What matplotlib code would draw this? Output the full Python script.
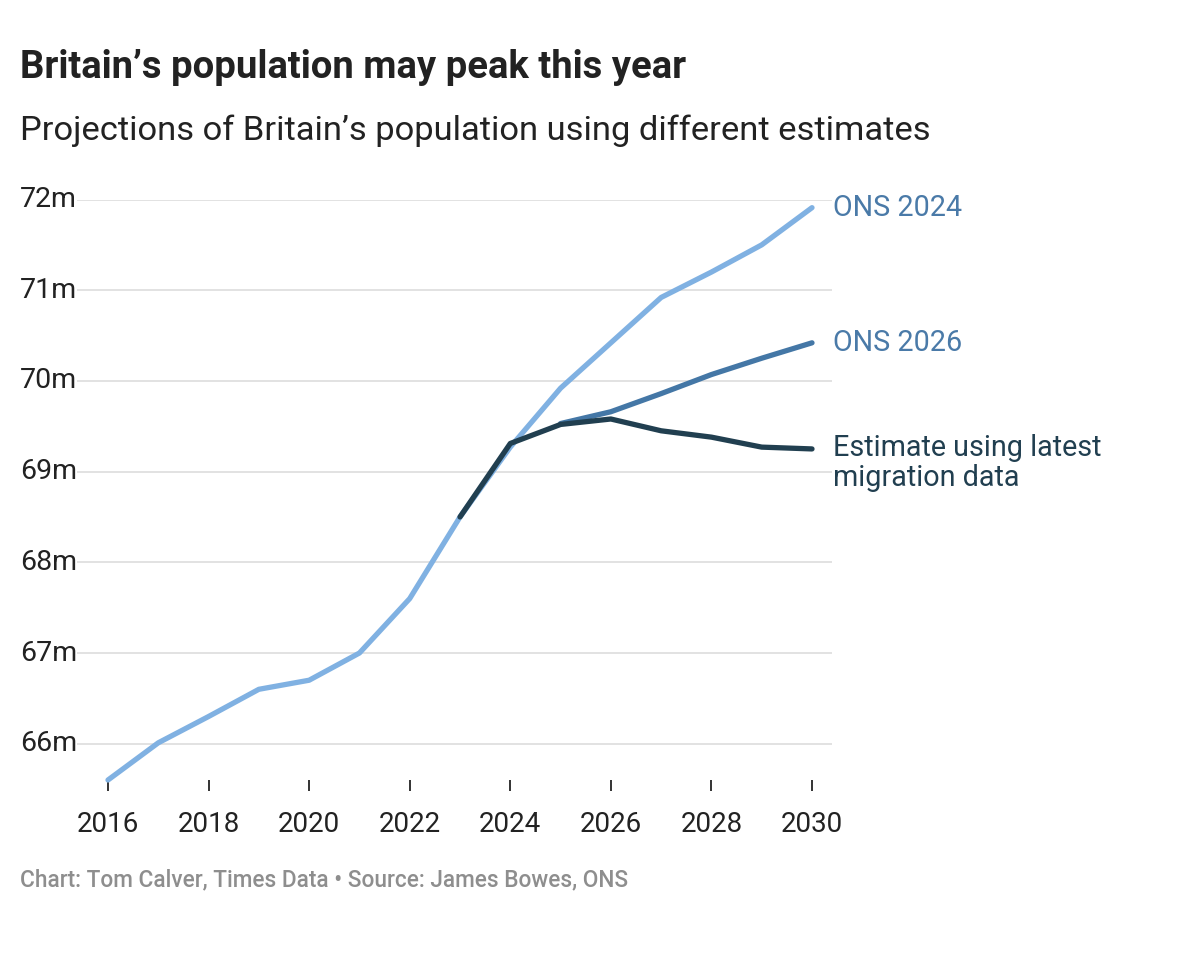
import matplotlib
matplotlib.use('Agg')
import matplotlib.pyplot as plt
import matplotlib.transforms as mtransforms

plt.rcParams['font.family'] = ['Roboto', 'DejaVu Sans']

# data (millions)
years_2024 = [2016, 2017, 2018, 2019, 2020, 2021, 2022, 2023, 2024, 2025, 2026, 2027, 2028, 2029, 2030]
ons_2024 = [65.6, 66.01, 66.3, 66.6, 66.7, 67.0, 67.6, 68.5, 69.27, 69.92, 70.42, 70.92, 71.2, 71.5, 71.91]

years_2026 = [2025, 2026, 2027, 2028, 2029, 2030]
ons_2026 = [69.53, 69.66, 69.86, 70.07, 70.25, 70.42]

years_est = [2023, 2024, 2025, 2026, 2027, 2028, 2029, 2030]
estimate = [68.5, 69.31, 69.52, 69.58, 69.45, 69.38, 69.27, 69.25]

y_ticks = [66, 67, 68, 69, 70, 71, 72]
x_ticks = [2016, 2018, 2020, 2022, 2024, 2026, 2028, 2030]

c_light = '#80b1e2'
c_mid = '#4477a6'
c_dark = '#213f50'
c_label = '#4a7aa8'

fig = plt.figure(figsize=(12, 9.64), dpi=100)
ax = fig.add_axes([77/1200, 1 - 780/964, (832-77)/1200, (780-199.5)/964])

lw = 3.8
ax.plot(years_2024, ons_2024, color=c_light, lw=lw, solid_capstyle='round', solid_joinstyle='round', clip_on=False, zorder=3)
ax.plot(years_2026, ons_2026, color=c_mid, lw=lw, solid_capstyle='round', solid_joinstyle='round', clip_on=False, zorder=4)
ax.plot(years_est, estimate, color=c_dark, lw=lw, solid_capstyle='round', solid_joinstyle='round', clip_on=False, zorder=5)

ax.set_xlim(2016 - 31/50.3, 2030 + 20/50.3)
ax.set_ylim(65.6, 72)

for s in ax.spines.values():
    s.set_visible(False)
ax.set_yticks(y_ticks)
ax.yaxis.grid(True, color='#e2e2e2', lw=1.4)
ax.tick_params(axis='y', length=0, labelleft=False)
ax.set_axisbelow(True)

ax.set_xticks(x_ticks)
ax.set_xticklabels([str(y) for y in x_ticks], fontsize=20, color='#222222')
ax.tick_params(axis='x', length=8, width=1.4, color='#333333', pad=14)

# y labels, left aligned at figure edge
trans = mtransforms.blended_transform_factory(fig.transFigure, ax.transData)
for v in y_ticks:
    ax.text(20/1200, v, f'{v}m', transform=trans, ha='left', va='center', fontsize=20.5, color='#222222')

# line labels
ax.annotate('ONS 2024', xy=(2030, ons_2024[-1]), xytext=(21, 0), textcoords='offset pixels',
            ha='left', va='center', fontsize=20.7, color=c_label, annotation_clip=False)
ax.annotate('ONS 2026', xy=(2030, ons_2026[-1]), xytext=(21, 0), textcoords='offset pixels',
            ha='left', va='center', fontsize=20.7, color=c_label, annotation_clip=False)
ax.annotate('Estimate using latest\nmigration data', xy=(2030, estimate[-1]), xytext=(21, 15),
            textcoords='offset pixels', ha='left', va='top', fontsize=20.7, color=c_dark,
            linespacing=1.1, annotation_clip=False)

fig.text(20/1200, 1 - 68/964, 'Britain\u2019s population may peak this year', fontsize=27.5,
         fontweight='bold', color='#222222', ha='left', va='center')
fig.text(20/1200, 1 - 131/964, 'Projections of Britain\u2019s population using different estimates',
         fontsize=24.8, color='#222222', ha='left', va='center')
fig.text(20/1200, 1 - 880/964, 'Chart: Tom Calver, Times Data \u2022 Source: James Bowes, ONS',
         fontsize=16.3, fontweight='medium', color='#8e8e8e', ha='left', va='center')

fig.savefig('out.png', dpi=100, facecolor='white')
